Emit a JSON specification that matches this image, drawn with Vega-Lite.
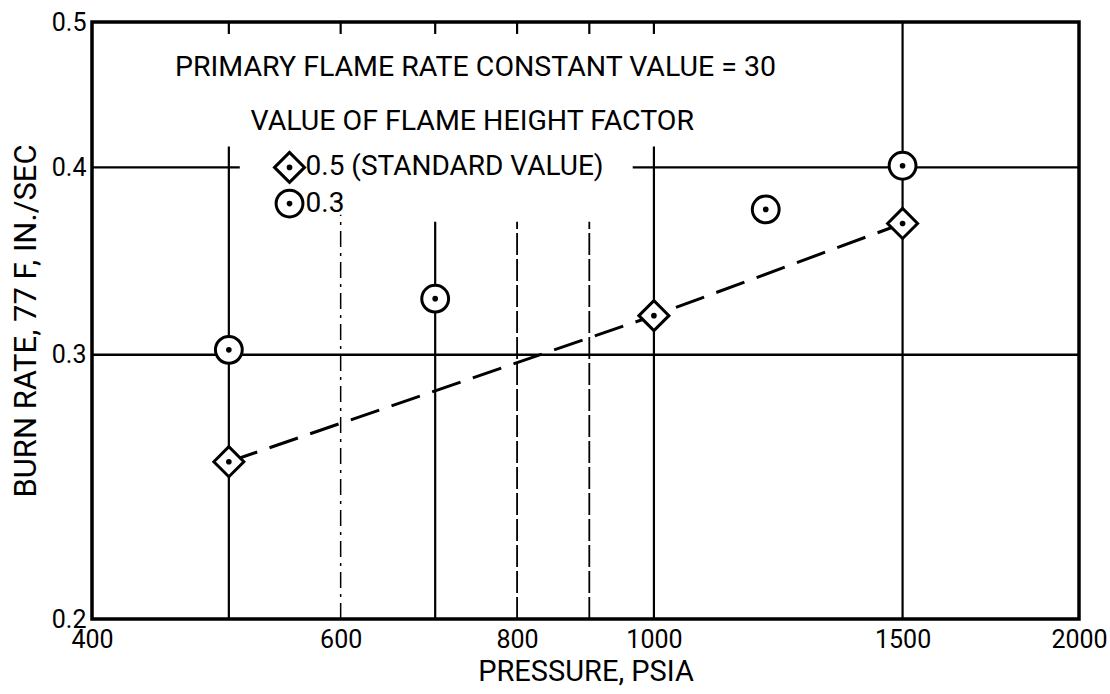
{
  "$schema": "https://vega.github.io/schema/vega-lite/v6.json",
  "width": 987,
  "height": 597,
  "autosize": {"type": "none"},
  "padding": {"left": 92, "top": 22, "right": 31, "bottom": 75},
  "background": "white",
  "config": {
    "view": {"stroke": "black", "strokeWidth": 3.5},
    "font": "Roboto, sans-serif",
    "axis": {"domain": false, "ticks": false, "grid": false, "labelColor": "black", "titleColor": "black", "labelFontWeight": "normal", "titleFontWeight": "normal"}
  },
  "datasets": {
    "points": [
      {"pressure": 500, "rate": 0.2546, "factor": "0.5"},
      {"pressure": 1000, "rate": 0.3186, "factor": "0.5"},
      {"pressure": 1500, "rate": 0.367, "factor": "0.5"},
      {"pressure": 500, "rate": 0.3023, "factor": "0.3"},
      {"pressure": 700, "rate": 0.327, "factor": "0.3"},
      {"pressure": 1200, "rate": 0.375, "factor": "0.3"},
      {"pressure": 1500, "rate": 0.401, "factor": "0.3"}
    ],
    "legend": [
      {"pressure": 552, "rate": 0.4, "factor": "0.5", "label": "0.5 (STANDARD VALUE)"},
      {"pressure": 552, "rate": 0.3784, "factor": "0.3", "label": "0.3"}
    ],
    "vsolid": [
      {"pressure": 500, "from": 0.2, "to": 0.413},
      {"pressure": 500, "from": 0.4909, "to": 0.5},
      {"pressure": 600, "from": 0.4909, "to": 0.5},
      {"pressure": 700, "from": 0.2, "to": 0.368},
      {"pressure": 700, "from": 0.4909, "to": 0.5},
      {"pressure": 800, "from": 0.4909, "to": 0.5},
      {"pressure": 900, "from": 0.4909, "to": 0.5},
      {"pressure": 1000, "from": 0.2, "to": 0.413},
      {"pressure": 1000, "from": 0.4909, "to": 0.5},
      {"pressure": 1500, "from": 0.2, "to": 0.5}
    ],
    "vdashdot": [
      {"pressure": 600, "from": 0.2, "to": 0.372}
    ],
    "vdashed": [
      {"pressure": 800, "from": 0.2, "to": 0.368},
      {"pressure": 900, "from": 0.2, "to": 0.368}
    ],
    "hsolid": [
      {"rate": 0.3, "from": 400, "to": 2000},
      {"rate": 0.4, "from": 400, "to": 509},
      {"rate": 0.4, "from": 966, "to": 2000}
    ],
    "notes": [
      {"pressure": 458, "rate": 0.4665, "text": "PRIMARY FLAME RATE CONSTANT VALUE = 30"},
      {"pressure": 518, "rate": 0.4296, "text": "VALUE OF FLAME HEIGHT FACTOR"}
    ]
  },
  "layer": [
    {
      "data": {"name": "vsolid"},
      "mark": {"type": "rule", "color": "black", "strokeWidth": 2.2},
      "encoding": {
        "x": {"field": "pressure", "type": "quantitative", "scale": {"type": "log", "domain": [400, 2000], "nice": false},
          "axis": {"values": [400, 600, 800, 1000, 1500, 2000], "format": "d", "labelFontSize": 25, "labelPadding": 8, "labelFlush": false, "labelOverlap": false,
            "title": "PRESSURE, PSIA", "titleFontSize": 29, "titlePadding": 5}},
        "y": {"field": "from", "type": "quantitative", "scale": {"type": "log", "domain": [0.2, 0.5], "nice": false},
          "axis": {"values": [0.2, 0.3, 0.4, 0.5], "format": ".1f", "labelFontSize": 25, "labelPadding": 6, "labelFlush": false, "labelOverlap": false,
            "title": "BURN RATE, 77 F, IN./SEC", "titleFontSize": 31, "titlePadding": 9}},
        "y2": {"field": "to"}
      }
    },
    {
      "data": {"name": "vdashdot"},
      "mark": {"type": "rule", "color": "black", "strokeWidth": 1.5, "strokeDash": [16, 6, 3, 6]},
      "encoding": {
        "x": {"field": "pressure", "type": "quantitative"},
        "y": {"field": "from", "type": "quantitative"},
        "y2": {"field": "to"}
      }
    },
    {
      "data": {"name": "vdashed"},
      "mark": {"type": "rule", "color": "black", "strokeWidth": 1.8, "strokeDash": [22, 4]},
      "encoding": {
        "x": {"field": "pressure", "type": "quantitative"},
        "y": {"field": "from", "type": "quantitative"},
        "y2": {"field": "to"}
      }
    },
    {
      "data": {"name": "hsolid"},
      "mark": {"type": "rule", "color": "black", "strokeWidth": 2.4},
      "encoding": {
        "y": {"field": "rate", "type": "quantitative"},
        "x": {"field": "from", "type": "quantitative"},
        "x2": {"field": "to"}
      }
    },
    {
      "data": {"name": "points"},
      "transform": [{"filter": "datum.factor === '0.5'"}],
      "mark": {"type": "line", "color": "black", "strokeWidth": 3, "strokeDash": [30, 13]},
      "encoding": {
        "x": {"field": "pressure", "type": "quantitative"},
        "y": {"field": "rate", "type": "quantitative"}
      }
    },
    {
      "data": {"name": "points"},
      "mark": {"type": "point", "filled": false, "fill": "white", "fillOpacity": 1, "stroke": "black", "strokeWidth": 3, "opacity": 1},
      "encoding": {
        "x": {"field": "pressure", "type": "quantitative"},
        "y": {"field": "rate", "type": "quantitative"},
        "shape": {"field": "factor", "type": "nominal", "scale": {"domain": ["0.5", "0.3"], "range": ["diamond", "circle"]}, "legend": null},
        "size": {"field": "factor", "type": "nominal", "scale": {"domain": ["0.5", "0.3"], "range": [900, 720]}, "legend": null}
      }
    },
    {
      "data": {"name": "legend"},
      "mark": {"type": "point", "filled": false, "fill": "white", "fillOpacity": 1, "stroke": "black", "strokeWidth": 3, "opacity": 1},
      "encoding": {
        "x": {"field": "pressure", "type": "quantitative"},
        "y": {"field": "rate", "type": "quantitative"},
        "shape": {"field": "factor", "type": "nominal", "legend": null},
        "size": {"field": "factor", "type": "nominal", "legend": null}
      }
    },
    {
      "data": {"name": "points"},
      "mark": {"type": "point", "filled": true, "color": "black", "size": 32, "opacity": 1, "shape": "circle"},
      "encoding": {
        "x": {"field": "pressure", "type": "quantitative"},
        "y": {"field": "rate", "type": "quantitative"}
      }
    },
    {
      "data": {"name": "legend"},
      "mark": {"type": "point", "filled": true, "color": "black", "size": 32, "opacity": 1, "shape": "circle"},
      "encoding": {
        "x": {"field": "pressure", "type": "quantitative"},
        "y": {"field": "rate", "type": "quantitative"}
      }
    },
    {
      "data": {"name": "legend"},
      "mark": {"type": "text", "align": "left", "baseline": "middle", "dx": 16, "fontSize": 28, "color": "black"},
      "encoding": {
        "x": {"field": "pressure", "type": "quantitative"},
        "y": {"field": "rate", "type": "quantitative"},
        "text": {"field": "label"}
      }
    },
    {
      "data": {"name": "notes"},
      "mark": {"type": "text", "align": "left", "baseline": "middle", "fontSize": 28.5, "color": "black"},
      "encoding": {
        "x": {"field": "pressure", "type": "quantitative"},
        "y": {"field": "rate", "type": "quantitative"},
        "text": {"field": "text"}
      }
    }
  ]
}
